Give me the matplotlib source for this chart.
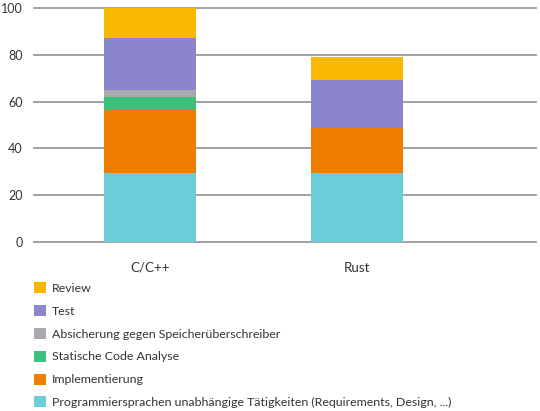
import matplotlib
matplotlib.use("Agg")
import matplotlib.pyplot as plt
from matplotlib.patches import Patch
import numpy as np

categories = ["C/C++", "Rust"]
series_names = [
    "Programmiersprachen unabhängige Tätigkeiten (Requirements, Design, ...)",
    "Implementierung",
    "Statische Code Analyse",
    "Absicherung gegen Speicherüberschreiber",
    "Test",
    "Review",
]
independent = [29.5, 29.5]
implementation = [27.0, 19.2]
static_analysis = [5.5, 0.0]
memory_protection = [3.0, 0.0]
test = [22.0, 20.5]
review = [13.0, 9.8]
series_values = [independent, implementation, static_analysis,
                 memory_protection, test, review]
colors = ["#6CCCD8", "#EF7D00", "#3DBF7D", "#A9AAAE", "#8B86CC", "#F9B900"]
y_ticks = [0, 20, 40, 60, 80, 100]

plt.rcParams['font.family'] = ['Lato', 'DejaVu Sans']
text_color = "#333333"

fig = plt.figure(figsize=(5.40, 4.11), dpi=100)
ax = fig.add_axes([0.063, 0.4105, 0.9296, 0.5708])

x = np.arange(len(categories))
bottom = np.zeros(len(categories))
for vals, col in zip(series_values, colors):
    ax.bar(x, vals, width=0.444, bottom=bottom, color=col, zorder=3, linewidth=0)
    bottom += np.array(vals)

ax.set_ylim(0, 100)
ax.set_xlim(-0.56, 1.865)
ax.set_yticks(y_ticks)
ax.set_xticks(x)
ax.set_xticklabels(categories, fontsize=9.6, color=text_color)
ax.tick_params(axis='y', length=0, pad=8, labelsize=9.0, labelcolor=text_color)
ax.tick_params(axis='x', length=0, pad=14)
for t in y_ticks:
    ax.axhline(t, color="#9A9A9A", linewidth=1.3, zorder=1, clip_on=False)
for s in ax.spines.values():
    s.set_visible(False)

handles = [Patch(facecolor=c, edgecolor='none') for c in colors][::-1]
labels = series_names[::-1]
fig.legend(handles, labels, loc='upper left', bbox_to_anchor=(0.063, 0.313),
           frameon=False, borderpad=0, borderaxespad=0, fontsize=8.9,
           handlelength=0.98, handleheight=0.98, handletextpad=0.45,
           labelspacing=0.9, labelcolor=text_color)

fig.savefig("out.png", dpi=100)
